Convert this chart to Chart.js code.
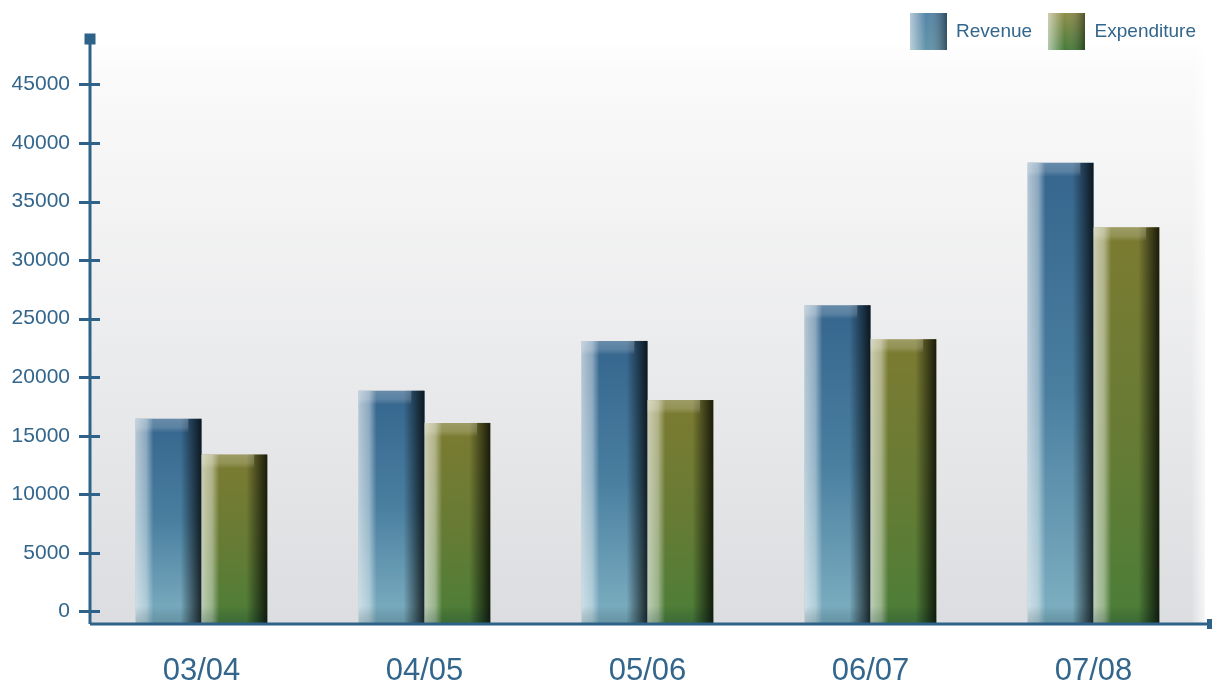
<!DOCTYPE html>
<html>
<head>
<meta charset="utf-8">
<script src="https://cdn.jsdelivr.net/npm/chart.js@4.4.1/dist/chart.umd.min.js"></script>
<style>
  html, body { margin: 0; padding: 0; background: #fff; }
  #wrap { width: 1212px; height: 686px; }
</style>
</head>
<body>
<div id="wrap"><canvas id="chart"></canvas></div>
<script>
const years = ['03/04', '04/05', '05/06', '06/07', '07/08'];
const revenue = [16450, 18850, 23100, 26150, 38300];
const expenditure = [13400, 16100, 18050, 23250, 32800];
const yTicks = [0, 5000, 10000, 15000, 20000, 25000, 30000, 35000, 40000, 45000];

const axisColor = '#2f6288';
const textColor = '#33668c';
const fontFamily = '"Liberation Sans", Arial, sans-serif';
const baseValue = -1068;

// vertical colour runs of the glassy bars, top to bottom
const revenueStops = ['#35658d', '#4a7fa0', '#7fb1c2'];
const expenditureStops = ['#7c7b31', '#687b34', '#4b7e38'];

function barFill(stops) {
  return (ctx) => {
    const chart = ctx.chart;
    const y = chart.scales.y;
    if (!chart.chartArea || !y || ctx.raw == null) return stops[1];
    const top = y.getPixelForValue(ctx.raw);
    const bottom = y.getPixelForValue(baseValue);
    const g = chart.ctx.createLinearGradient(0, top, 0, bottom);
    stops.forEach((c, i) => g.addColorStop(i / (stops.length - 1), c));
    return g;
  };
}

function swatch(top, bottom) {
  const c = document.createElement('canvas');
  c.width = 37;
  c.height = 37;
  const g = c.getContext('2d');
  let v = g.createLinearGradient(0, 0, 0, 37);
  v.addColorStop(0, top);
  v.addColorStop(1, bottom);
  g.fillStyle = v;
  g.fillRect(0, 0, 37, 37);
  let h = g.createLinearGradient(0, 0, 37, 0);
  h.addColorStop(0, 'rgba(255,255,255,0.6)');
  h.addColorStop(0.45, 'rgba(255,255,255,0.05)');
  h.addColorStop(1, 'rgba(0,0,0,0.4)');
  g.fillStyle = h;
  g.fillRect(0, 0, 37, 37);
  return c;
}

const swatches = [swatch('#4d7ea3', '#5a8fa5'), swatch('#8a8840', '#3c7530')];

const plotBackground = {
  id: 'plotBackground',
  beforeDraw(chart) {
    const { ctx, chartArea: a } = chart;
    const top = 40;
    ctx.save();
    const g = ctx.createLinearGradient(0, top, 0, a.bottom);
    g.addColorStop(0, '#ffffff');
    g.addColorStop(0.06, '#fafafa');
    g.addColorStop(1, '#dcdde0');
    ctx.fillStyle = g;
    ctx.fillRect(a.left, top, a.right - a.left, a.bottom - top);
    const r = ctx.createLinearGradient(a.right - 14, 0, a.right + 2, 0);
    r.addColorStop(0, 'rgba(255,255,255,0)');
    r.addColorStop(1, 'rgba(255,255,255,0.85)');
    ctx.fillStyle = r;
    ctx.fillRect(a.right - 14, top, 16, a.bottom - top);
    ctx.restore();
  }
};

const glassBars = {
  id: 'glassBars',
  afterDatasetsDraw(chart) {
    const ctx = chart.ctx;
    ctx.save();
    chart.data.datasets.forEach((ds, i) => {
      chart.getDatasetMeta(i).data.forEach((bar) => {
        const left = bar.x - bar.width / 2;
        const w = bar.width;
        const top = bar.y;
        const h = bar.base - bar.y;
        const g = ctx.createLinearGradient(left, 0, left + w, 0);
        g.addColorStop(0, 'rgba(255,255,255,0.62)');
        g.addColorStop(0.16, 'rgba(255,255,255,0.42)');
        g.addColorStop(0.27, 'rgba(255,255,255,0)');
        g.addColorStop(0.68, 'rgba(0,0,0,0)');
        g.addColorStop(0.78, 'rgba(0,0,0,0.25)');
        g.addColorStop(1, 'rgba(0,0,0,0.78)');
        ctx.fillStyle = g;
        ctx.fillRect(left, top, w, h);
        const t = ctx.createLinearGradient(0, top, 0, top + 14);
        t.addColorStop(0, 'rgba(255,255,255,0.25)');
        t.addColorStop(0.6, 'rgba(255,255,255,0.18)');
        t.addColorStop(1, 'rgba(255,255,255,0)');
        ctx.fillStyle = t;
        ctx.fillRect(left, top, w * 0.8, 14);
        const b = ctx.createLinearGradient(0, bar.base - 18, 0, bar.base);
        b.addColorStop(0, 'rgba(0,30,40,0)');
        b.addColorStop(0.5, 'rgba(0,30,40,0.12)');
        b.addColorStop(1, 'rgba(0,30,40,0.2)');
        ctx.fillStyle = b;
        ctx.fillRect(left, bar.base - 18, w, 18);
      });
    });
    ctx.restore();
  }
};

const axesLines = {
  id: 'axesLines',
  afterDraw(chart) {
    const { ctx, chartArea: a } = chart;
    const y = chart.scales.y;
    const topY = 39;
    ctx.save();
    ctx.strokeStyle = axisColor;
    ctx.fillStyle = axisColor;
    ctx.lineWidth = 3;
    ctx.beginPath();
    ctx.moveTo(a.left, a.bottom);
    ctx.lineTo(a.left, topY);
    ctx.moveTo(a.left, a.bottom);
    ctx.lineTo(1212, a.bottom);
    yTicks.forEach((v) => {
      const p = Math.round(y.getPixelForValue(v)) + 0.5;
      ctx.moveTo(a.left - 11, p);
      ctx.lineTo(a.left + 10, p);
    });
    ctx.stroke();
    ctx.fillRect(a.left - 5.5, topY - 5.5, 11, 11);
    ctx.fillRect(1207, a.bottom - 5, 10, 10);
    ctx.restore();
  }
};

new Chart(document.getElementById('chart'), {
  type: 'bar',
  data: {
    labels: years,
    datasets: [
      {
        label: 'Revenue',
        data: revenue,
        backgroundColor: barFill(revenueStops),
        base: baseValue,
        borderWidth: 0,
      },
      {
        label: 'Expenditure',
        data: expenditure,
        backgroundColor: barFill(expenditureStops),
        base: baseValue,
        borderWidth: 0,
      },
    ],
  },
  options: {
    responsive: true,
    maintainAspectRatio: false,
    animation: false,
    layout: { padding: { top: 6, right: 0, left: 0, bottom: 0 } },
    datasets: {
      bar: { categoryPercentage: 0.59, barPercentage: 1 },
    },
    plugins: {
      tooltip: { enabled: false },
      legend: {
        position: 'top',
        align: 'end',
        labels: {
          usePointStyle: true,
          pointStyleWidth: 37,
          padding: 16,
          color: textColor,
          font: { family: fontFamily, size: 19 },
          generateLabels(chart) {
            return chart.data.datasets.map((ds, i) => ({
              text: ds.label,
              pointStyle: swatches[i],
              fillStyle: 'rgba(0,0,0,0)',
              strokeStyle: 'rgba(0,0,0,0)',
              fontColor: textColor,
              lineWidth: 0,
              hidden: false,
              datasetIndex: i,
            }));
          },
        },
      },
    },
    scales: {
      x: {
        grid: { display: false },
        border: { display: false },
        ticks: {
          color: textColor,
          font: { family: fontFamily, size: 31 },
          padding: 21,
        },
        afterFit(scale) {
          scale.height = 62;
        },
      },
      y: {
        min: baseValue,
        max: 47850,
        grid: { display: false, drawTicks: false },
        border: { display: false },
        ticks: {
          color: textColor,
          font: { family: fontFamily, size: 21 },
          padding: 20,
          callback: (v) => String(v),
        },
        afterBuildTicks(scale) {
          scale.ticks = yTicks.map((v) => ({ value: v }));
        },
        afterFit(scale) {
          scale.width = 90;
        },
      },
      // empty right-hand strip so the plot stops short of the canvas edge
      gap: {
        position: 'right',
        grid: { display: false },
        border: { display: false },
        ticks: { display: false },
        afterFit(scale) {
          scale.width = 7;
        },
      },
    },
  },
  plugins: [plotBackground, glassBars, axesLines],
});
</script>
</body>
</html>
